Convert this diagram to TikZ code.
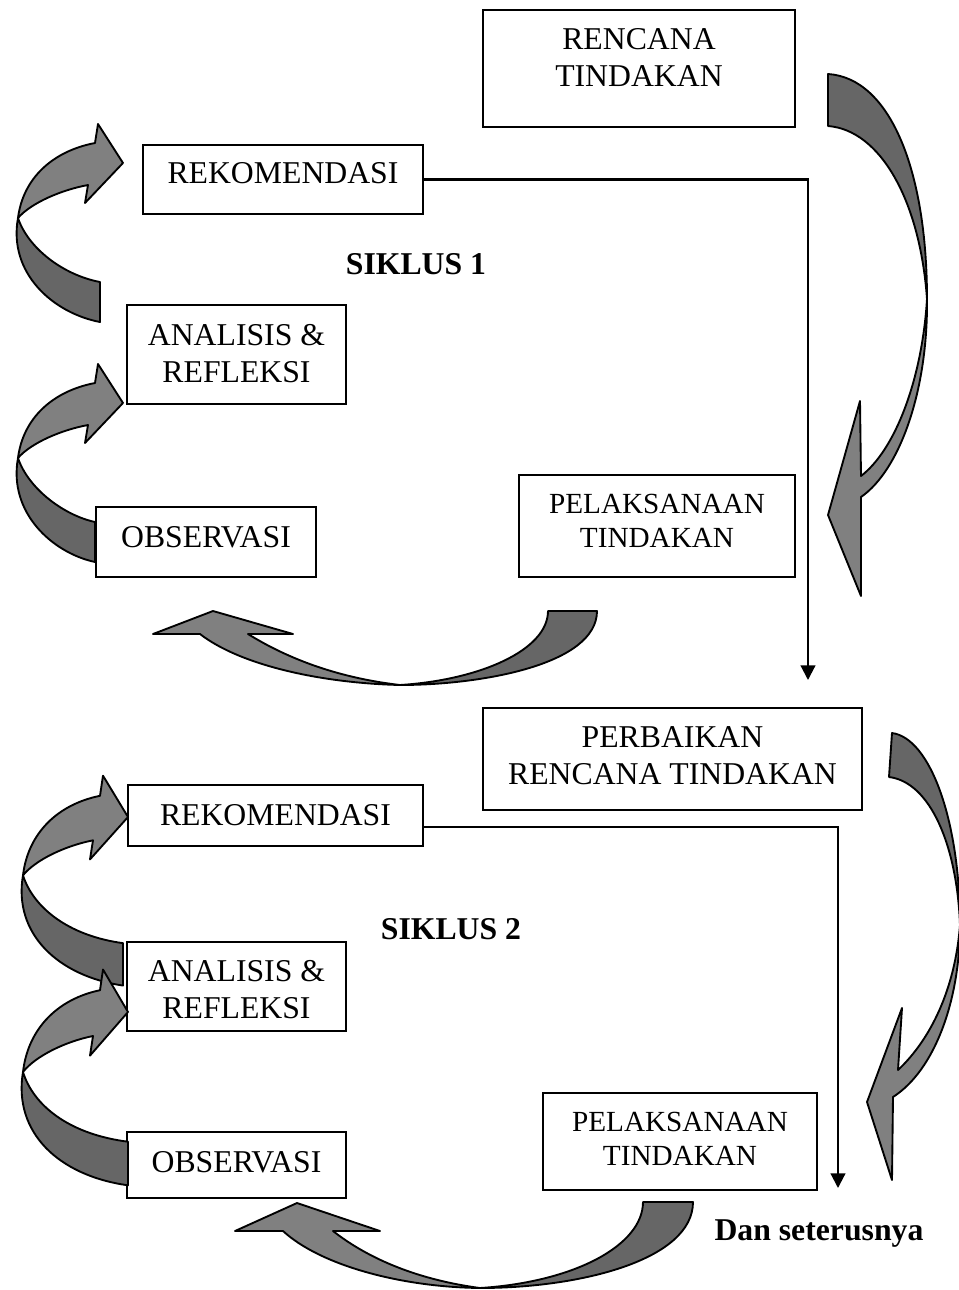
\documentclass[tikz,border=0pt]{standalone}
\usepackage{fontspec}
\setmainfont{Liberation Serif}
\usetikzlibrary{arrows.meta}

% curled arrow on the left side: tip x, tip y, tail x offset, y stretch
\newcommand{\curl}[4]{%
\begin{scope}[shift={(#1,#2)}, yscale=#4]
\filldraw [back] (-105,55) .. controls (-115,110) and (-70,150) .. (#3,159) -- (#3,119) .. controls (-60,112) and (-95,85) .. (-105,55) -- cycle;
\filldraw [front] (-28,-20) .. controls (-70,-12) and (-100,15) .. (-105,55) .. controls (-92,40) and (-62,27) .. (-35,22) -- (-38,40) -- (0,0) -- (-25,-39) -- cycle;
\end{scope}}

\begin{document}
\begin{tikzpicture}
[x=0.75pt, y=-0.75pt, every node/.style={inner sep=0pt},
 front/.style={fill=black!50, draw=black, line width=1.4pt, line join=round},
 back/.style={fill=black!60, draw=black, line width=1.4pt, line join=round},
 box/.style={rectangle, draw=black, line width=1.6pt},
 txt/.style={font=\fontsize{23.8pt}{27.7pt}\selectfont, align=center},
 smalltxt/.style={font=\fontsize{21.9pt}{25.5pt}\selectfont, align=center},
 bold/.style={font=\fontsize{23.8pt}{27.7pt}\selectfont\bfseries},
 link/.style={line width=1.6pt, -{Triangle[width=11pt, length=11pt]}}]
\useasboundingbox (0,0) rectangle (958,1290);

% siklus 1
\node (rencana) [box, minimum width=234pt, minimum height=87.75pt, label={[txt, yshift=7.9pt]center:{RENCANA\\TINDAKAN}}] at (639, 68.5) {};
\node (rek1) [box, minimum width=210pt, minimum height=51.75pt, label={[txt, yshift=4.5pt]center:REKOMENDASI}] at (283, 179.5) {};
\node (ana1) [box, minimum width=164.25pt, minimum height=74.25pt, label={[txt, yshift=1pt]center:{ANALISIS \&\\REFLEKSI}}] at (236.5, 354.5) {};
\node (obs1) [box, minimum width=165pt, minimum height=52.5pt, label={[txt, yshift=3.75pt]center:OBSERVASI}] at (206, 542) {};
\node (pel1) [box, minimum width=207pt, minimum height=76.5pt, label={[smalltxt, yshift=4pt]center:{PELAKSANAAN\\TINDAKAN}}] at (657, 526) {};
\node (siklus1) [bold] at (416, 264.5) {SIKLUS 1};

% siklus 2
\node (perbaikan) [box, minimum width=284.25pt, minimum height=76.5pt, label={[txt, yshift=2.25pt]center:{PERBAIKAN\\RENCANA TINDAKAN}}] at (672.5, 759) {};
\node (rek2) [box, minimum width=221.25pt, minimum height=45.75pt, label={[txt]center:REKOMENDASI}] at (275.5, 815.5) {};
\node (ana2) [box, minimum width=164.25pt, minimum height=66.75pt, label={[txt, yshift=-2pt]center:{ANALISIS \&\\REFLEKSI}}] at (236.5, 986.5) {};
\node (obs2) [box, minimum width=164.25pt, minimum height=49.5pt, label={[txt, yshift=2pt]center:OBSERVASI}] at (236.5, 1165) {};
\node (pel2) [box, minimum width=205.5pt, minimum height=72.75pt, label={[smalltxt, yshift=2pt]center:{PELAKSANAAN\\TINDAKAN}}] at (680, 1141.5) {};
\node (siklus2) [bold] at (451, 929) {SIKLUS 2};
\node (lanjut) [bold] at (819, 1234) {Dan seterusnya};

% connectors
\coordinate (end1) at (808, 680);
\coordinate (end2) at (838, 1188);
\draw [link] (rek1.east) -| (end1);
\draw [link] ([yshift=-8.6pt]rek2.east) -| (end2);

% big arrow on the right, siklus 1
\filldraw [back] (828,74) .. controls (890,78) and (927,170) .. (927,299) .. controls (920,200) and (880,130) .. (828,126) -- cycle;
\filldraw [front] (927,299) .. controls (928,390) and (900,470) .. (861,497) -- (861,596) -- (828,515) -- (860,401) -- (861,476) .. controls (895,450) and (922,380) .. (927,299) -- cycle;

% big arrow on the right, siklus 2
\filldraw [back] (892,733) .. controls (930,738) and (960,820) .. (960,925) .. controls (957,845) and (930,782) .. (889,777) -- cycle;
\filldraw [front] (960,925) .. controls (960,1000) and (935,1070) .. (893,1097) -- (892,1180) -- (867,1102) -- (902,1008) -- (898,1070) .. controls (930,1040) and (955,990) .. (960,925) -- cycle;

% bottom arrows
\filldraw [back] (597,611) .. controls (597,665) and (480,685) .. (400,685) .. controls (480,680) and (548,650) .. (548,611) -- cycle;
\filldraw [front] (400,685) .. controls (320,683) and (240,665) .. (200,634) -- (153,634) -- (213,611) -- (293,634) -- (248,634) .. controls (290,660) and (340,678) .. (400,685) -- cycle;
\filldraw [back] (693,1202) .. controls (693,1260) and (580,1288) .. (480,1288) .. controls (575,1282) and (643,1245) .. (643,1202) -- cycle;
\filldraw [front] (480,1288) .. controls (400,1287) and (320,1265) .. (283,1231) -- (235,1231) -- (297,1203) -- (380,1231) -- (333,1231) .. controls (370,1260) and (420,1280) .. (480,1288) -- cycle;

% left curls
\curl{123}{163}{-23}{1}
\curl{123}{403}{-28}{1}
\curl{128}{817}{-5}{1.06}
\curl{128}{1012}{0}{1.09}
\end{tikzpicture}
\end{document}
